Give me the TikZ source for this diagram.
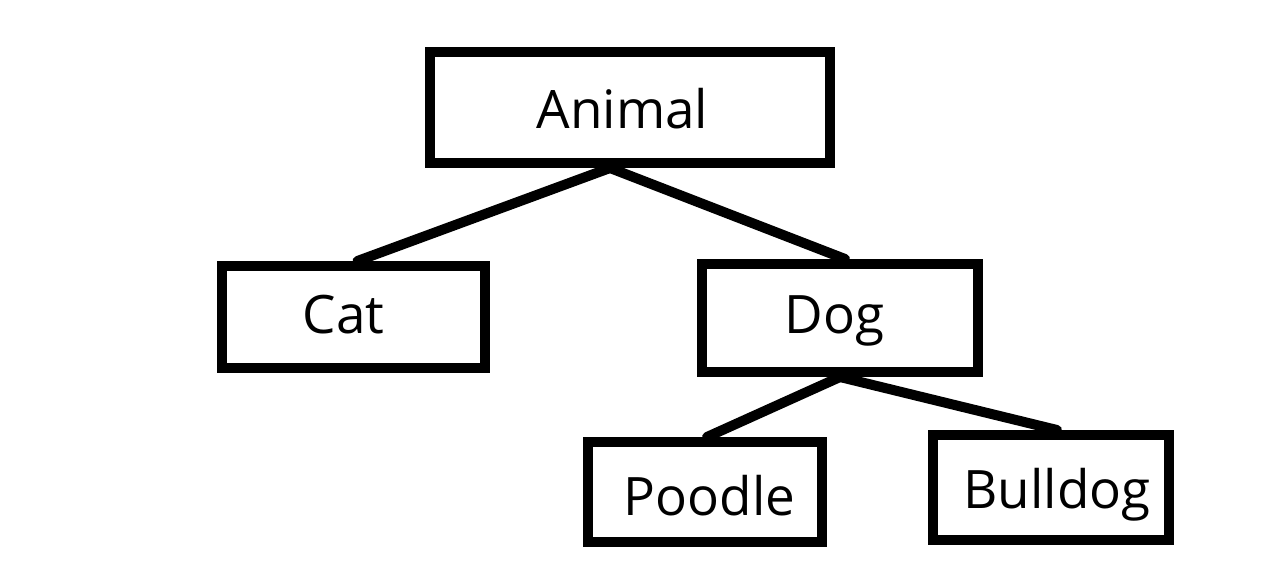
\documentclass[tikz,border=0pt]{standalone}
\usepackage{fontspec}
\setmainfont{Open Sans}
\usetikzlibrary{calc}
\begin{document}
\begin{tikzpicture}[x=0.5pt,y=-0.5pt,
  box/.style={draw=black,line width=5pt,fill=white,inner sep=0pt,outer sep=2.5pt},
  lbl/.style={anchor=base,inner sep=0pt,font=\fontsize{26.5pt}{30pt}\selectfont},
  link/.style={draw=black,line width=5pt,line cap=round}]
\useasboundingbox (0,0) rectangle (1284,576);
% boxes
\node[box,minimum width=200pt,minimum height=55.5pt] (animal) at (630,107.5) {};
\node[box,minimum width=131.5pt,minimum height=51pt] (cat) at (353.5,317) {};
\node[box,minimum width=138pt,minimum height=54pt] (dog) at (840,318) {};
\node[box,minimum width=117pt,minimum height=50pt] (poodle) at (705,492) {};
\node[box,minimum width=118pt,minimum height=52.5pt] (bulldog) at (1051,487.5) {};
% connectors
\draw[link] ($(animal.south)+(-20,0)$) -- ($(cat.north)+(4,0)$);
\draw[link] ($(animal.south)+(-20,0)$) -- ($(dog.north)+(5,0)$);
\draw[link] (dog.south) -- ($(poodle.north)+(2,0)$);
\draw[link] (dog.south) -- ($(bulldog.north)+(6,0)$);
% labels
\node[lbl] (animal-t) at (622.5,129) {Animal};
\node[lbl] (cat-t) at (343.5,334) {Cat};
\node[lbl] (dog-t) at (834.5,334) {Dog};
\node[lbl] (poodle-t) at (709.5,516) {Poodle};
\node[lbl] (bulldog-t) at (1057,509) {Bulldog};
\end{tikzpicture}
\end{document}
